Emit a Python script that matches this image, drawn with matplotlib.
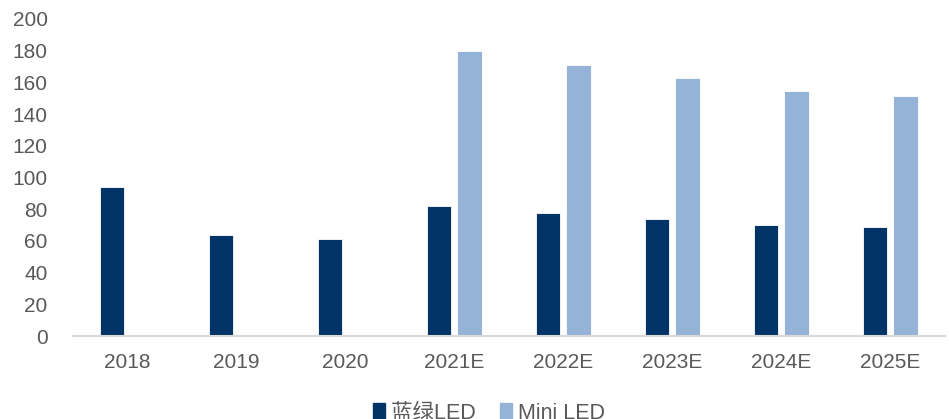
import numpy as np
import matplotlib.pyplot as plt
from matplotlib.patches import Patch

plt.rcParams['font.family'] = ['Liberation Sans', 'Noto Sans CJK SC', 'DejaVu Sans']

years = ['2018', '2019', '2020', '2021E', '2022E', '2023E', '2024E', '2025E']
blue_green = [94, 63.5, 61, 82, 77.5, 74, 70, 69]
mini_led = [np.nan, np.nan, np.nan, 180, 171, 162.5, 154.5, 151.5]

dark = '#003366'
light = '#95B3D7'
txt = '#595959'

fig = plt.figure(figsize=(9.49, 4.19), dpi=100)
ax = fig.add_axes([0.0766, 0.198, 0.9192, 0.757])

x = np.arange(len(years))
w = 0.225
ax.bar(x - 0.14, blue_green, w, color=dark, edgecolor='white', linewidth=0.6)
ax.bar(x + 0.14, mini_led, w, color=light, edgecolor='white', linewidth=0.6)

ax.set_xlim(-0.5, len(years) - 0.5)
ax.set_ylim(0, 200)
ax.set_yticks(range(0, 201, 20))
ax.set_xticks(x)
ax.set_xticklabels(years)
ax.tick_params(axis='both', length=0, labelsize=15, colors=txt)
ax.tick_params(axis='y', pad=18)
ax.tick_params(axis='x', pad=12)

for s in ['top', 'right', 'left']:
    ax.spines[s].set_visible(False)
ax.spines['bottom'].set_color('#d9d9d9')
ax.spines['bottom'].set_linewidth(1.5)

handles = [Patch(color=dark, label='蓝绿LED'), Patch(color=light, label='Mini LED')]
fig.legend(handles=handles, loc='center', bbox_to_anchor=(489 / 949, 1 - 413 / 419),
           ncol=2, frameon=False, fontsize=15.5, handlelength=0.55, handleheight=0.75,
           handletextpad=0.3, columnspacing=1.1, labelcolor=txt)

fig.savefig('out.png', dpi=100)
